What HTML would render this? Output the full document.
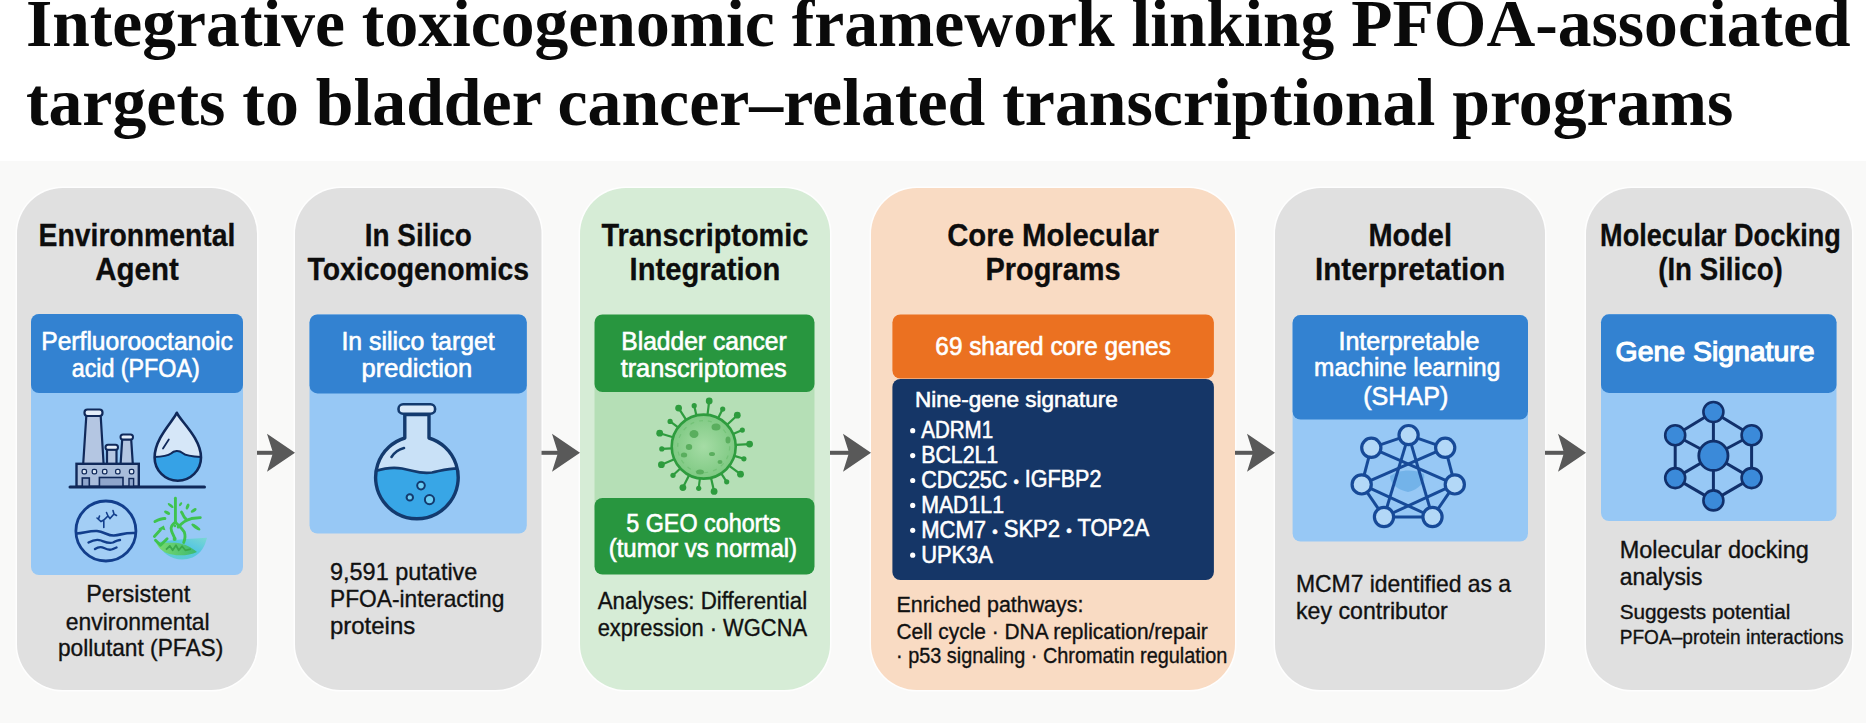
<!DOCTYPE html>
<html><head><meta charset="utf-8"><style>
html,body{margin:0;padding:0;background:#fff;overflow:hidden;}
svg{display:block;font-family:"Liberation Sans", sans-serif;}
</style></head><body>
<svg width="1866" height="723" viewBox="0 0 1866 723">
<rect x="0" y="0" width="1866" height="723" fill="#ffffff"/>
<rect x="0" y="161" width="1866" height="562" fill="#f9f9f8"/>
<text x="25.9" y="45.6" font-size="67" font-weight="bold" fill="#0a0a0a" text-anchor="start" font-family='"Liberation Serif", serif' textLength="1824.7" lengthAdjust="spacingAndGlyphs" >Integrative toxicogenomic framework linking PFOA-associated</text>
<text x="25.9" y="125.2" font-size="67" font-weight="bold" fill="#0a0a0a" text-anchor="start" font-family='"Liberation Serif", serif' textLength="1707.5" lengthAdjust="spacingAndGlyphs" >targets to bladder cancer–related transcriptional programs</text>
<rect x="15.5" y="186.5" width="243" height="505" rx="47.5" ry="47.5" fill="#ffffff" opacity="0.85"/>
<rect x="17" y="188" width="240" height="502" rx="46" ry="46" fill="#e0e0e0"/>
<rect x="293.5" y="186.5" width="249.5" height="505" rx="47.5" ry="47.5" fill="#ffffff" opacity="0.85"/>
<rect x="295" y="188" width="246.5" height="502" rx="46" ry="46" fill="#e0e0e0"/>
<rect x="578.5" y="186.5" width="253" height="505" rx="47.5" ry="47.5" fill="#ffffff" opacity="0.85"/>
<rect x="580" y="188" width="250" height="502" rx="46" ry="46" fill="#d6ecd6"/>
<rect x="869.5" y="186.5" width="367" height="505" rx="47.5" ry="47.5" fill="#ffffff" opacity="0.85"/>
<rect x="871" y="188" width="364" height="502" rx="46" ry="46" fill="#f9dbc3"/>
<rect x="1273.5" y="186.5" width="273" height="505" rx="47.5" ry="47.5" fill="#ffffff" opacity="0.85"/>
<rect x="1275" y="188" width="270" height="502" rx="46" ry="46" fill="#e0e0e0"/>
<rect x="1584.5" y="186.5" width="269" height="505" rx="47.5" ry="47.5" fill="#ffffff" opacity="0.85"/>
<rect x="1586" y="188" width="266" height="502" rx="46" ry="46" fill="#e0e0e0"/>
<line x1="257" y1="452.8" x2="275" y2="452.8" stroke="#595959" stroke-width="4"/>
<path d="M267,433.8 L295,452.8 L267,471.8 L273,452.8 Z" fill="#595959"/>
<line x1="541.5" y1="452.8" x2="560" y2="452.8" stroke="#595959" stroke-width="4"/>
<path d="M552,433.8 L580,452.8 L552,471.8 L558,452.8 Z" fill="#595959"/>
<line x1="830" y1="452.8" x2="851" y2="452.8" stroke="#595959" stroke-width="4"/>
<path d="M843,433.8 L871,452.8 L843,471.8 L849,452.8 Z" fill="#595959"/>
<line x1="1235" y1="452.8" x2="1255" y2="452.8" stroke="#595959" stroke-width="4"/>
<path d="M1247,433.8 L1275,452.8 L1247,471.8 L1253,452.8 Z" fill="#595959"/>
<line x1="1545" y1="452.8" x2="1566" y2="452.8" stroke="#595959" stroke-width="4"/>
<path d="M1558,433.8 L1586,452.8 L1558,471.8 L1564,452.8 Z" fill="#595959"/>
<text x="137.0" y="245.9" font-size="31.5" font-weight="bold" fill="#0d0d0d" text-anchor="middle" stroke="#0d0d0d" stroke-width="0.3" textLength="196.9" lengthAdjust="spacingAndGlyphs" >Environmental</text>
<text x="137.0" y="279.7" font-size="31.5" font-weight="bold" fill="#0d0d0d" text-anchor="middle" stroke="#0d0d0d" stroke-width="0.3" textLength="83.5" lengthAdjust="spacingAndGlyphs" >Agent</text>
<text x="418.3" y="245.9" font-size="31.5" font-weight="bold" fill="#0d0d0d" text-anchor="middle" stroke="#0d0d0d" stroke-width="0.3" textLength="107.1" lengthAdjust="spacingAndGlyphs" >In Silico</text>
<text x="418.3" y="279.7" font-size="31.5" font-weight="bold" fill="#0d0d0d" text-anchor="middle" stroke="#0d0d0d" stroke-width="0.3" textLength="221.6" lengthAdjust="spacingAndGlyphs" >Toxicogenomics</text>
<text x="704.9" y="245.9" font-size="31.5" font-weight="bold" fill="#0d0d0d" text-anchor="middle" stroke="#0d0d0d" stroke-width="0.3" textLength="206.9" lengthAdjust="spacingAndGlyphs" >Transcriptomic</text>
<text x="704.9" y="279.7" font-size="31.5" font-weight="bold" fill="#0d0d0d" text-anchor="middle" stroke="#0d0d0d" stroke-width="0.3" textLength="150.7" lengthAdjust="spacingAndGlyphs" >Integration</text>
<text x="1053.0" y="245.9" font-size="31.5" font-weight="bold" fill="#0d0d0d" text-anchor="middle" stroke="#0d0d0d" stroke-width="0.3" textLength="211.6" lengthAdjust="spacingAndGlyphs" >Core Molecular</text>
<text x="1053.0" y="279.7" font-size="31.5" font-weight="bold" fill="#0d0d0d" text-anchor="middle" stroke="#0d0d0d" stroke-width="0.3" textLength="135.2" lengthAdjust="spacingAndGlyphs" >Programs</text>
<text x="1410.2" y="245.9" font-size="31.5" font-weight="bold" fill="#0d0d0d" text-anchor="middle" stroke="#0d0d0d" stroke-width="0.3" textLength="83.6" lengthAdjust="spacingAndGlyphs" >Model</text>
<text x="1410.2" y="279.7" font-size="31.5" font-weight="bold" fill="#0d0d0d" text-anchor="middle" stroke="#0d0d0d" stroke-width="0.3" textLength="190.2" lengthAdjust="spacingAndGlyphs" >Interpretation</text>
<text x="1720.5" y="245.9" font-size="31.5" font-weight="bold" fill="#0d0d0d" text-anchor="middle" stroke="#0d0d0d" stroke-width="0.3" textLength="240.8" lengthAdjust="spacingAndGlyphs" >Molecular Docking</text>
<text x="1720.5" y="279.7" font-size="31.5" font-weight="bold" fill="#0d0d0d" text-anchor="middle" stroke="#0d0d0d" stroke-width="0.3" textLength="124.6" lengthAdjust="spacingAndGlyphs" >(In Silico)</text>
<rect x="31" y="314" width="212" height="261" rx="8" fill="#97c8f5"/>
<rect x="31" y="314" width="212" height="79" rx="8" fill="#3382d1"/>
<text x="137.0" y="349.6" font-size="25" font-weight="normal" fill="#fff" text-anchor="middle" stroke="#fff" stroke-width="0.6" textLength="191.5" lengthAdjust="spacingAndGlyphs" >Perfluorooctanoic</text>
<text x="135.7" y="376.9" font-size="25" font-weight="normal" fill="#fff" text-anchor="middle" stroke="#fff" stroke-width="0.6" textLength="128.0" lengthAdjust="spacingAndGlyphs" >acid (PFOA)</text>
<text x="138.2" y="602.4" font-size="24" font-weight="normal" fill="#111" text-anchor="middle" stroke="#111" stroke-width="0.35" textLength="104.1" lengthAdjust="spacingAndGlyphs" >Persistent</text>
<text x="137.7" y="629.5" font-size="24" font-weight="normal" fill="#111" text-anchor="middle" stroke="#111" stroke-width="0.35" textLength="143.9" lengthAdjust="spacingAndGlyphs" >environmental</text>
<text x="140.6" y="656.0" font-size="24" font-weight="normal" fill="#111" text-anchor="middle" stroke="#111" stroke-width="0.35" textLength="165.4" lengthAdjust="spacingAndGlyphs" >pollutant (PFAS)</text>
<rect x="309.5" y="314.5" width="217.29999999999995" height="219.0" rx="8" fill="#97c8f5"/>
<rect x="309.5" y="314.5" width="217.29999999999995" height="78.89999999999998" rx="8" fill="#3382d1"/>
<text x="418.1" y="349.5" font-size="25" font-weight="normal" fill="#fff" text-anchor="middle" stroke="#fff" stroke-width="0.6" textLength="153.3" lengthAdjust="spacingAndGlyphs" >In silico target</text>
<text x="416.9" y="376.8" font-size="25" font-weight="normal" fill="#fff" text-anchor="middle" stroke="#fff" stroke-width="0.6" textLength="110.7" lengthAdjust="spacingAndGlyphs" >prediction</text>
<text x="330.0" y="579.8" font-size="24" font-weight="normal" fill="#111" text-anchor="start" stroke="#111" stroke-width="0.35" textLength="147.4" lengthAdjust="spacingAndGlyphs" >9,591 putative</text>
<text x="330.0" y="607.2" font-size="24" font-weight="normal" fill="#111" text-anchor="start" stroke="#111" stroke-width="0.35" textLength="174.4" lengthAdjust="spacingAndGlyphs" >PFOA-interacting</text>
<text x="330.0" y="634.3" font-size="24" font-weight="normal" fill="#111" text-anchor="start" stroke="#111" stroke-width="0.35" textLength="85.2" lengthAdjust="spacingAndGlyphs" >proteins</text>
<rect x="594.5" y="380" width="220" height="130" fill="#b5dfb6"/>
<rect x="594.5" y="314.5" width="220" height="77.5" rx="8" fill="#28963f"/>
<rect x="594.5" y="498" width="220" height="76.5" rx="8" fill="#28963f"/>
<text x="704.0" y="349.5" font-size="25" font-weight="normal" fill="#fff" text-anchor="middle" stroke="#fff" stroke-width="0.6" textLength="165.5" lengthAdjust="spacingAndGlyphs" >Bladder cancer</text>
<text x="703.7" y="376.8" font-size="25" font-weight="normal" fill="#fff" text-anchor="middle" stroke="#fff" stroke-width="0.6" textLength="166.1" lengthAdjust="spacingAndGlyphs" >transcriptomes</text>
<text x="703.4" y="531.6" font-size="25" font-weight="normal" fill="#fff" text-anchor="middle" stroke="#fff" stroke-width="0.6" textLength="154.3" lengthAdjust="spacingAndGlyphs" >5 GEO cohorts</text>
<text x="702.9" y="557.4" font-size="25" font-weight="normal" fill="#fff" text-anchor="middle" stroke="#fff" stroke-width="0.6" textLength="188.5" lengthAdjust="spacingAndGlyphs" >(tumor vs normal)</text>
<text x="702.4" y="609.4" font-size="23" font-weight="normal" fill="#111" text-anchor="middle" stroke="#111" stroke-width="0.35" textLength="209.4" lengthAdjust="spacingAndGlyphs" >Analyses: Differential</text>
<text x="702.4" y="635.6" font-size="23" font-weight="normal" fill="#111" text-anchor="middle" stroke="#111" stroke-width="0.35" textLength="209.4" lengthAdjust="spacingAndGlyphs" >expression · WGCNA</text>
<rect x="892.4" y="314.5" width="321.5" height="64" rx="8" fill="#eb7121"/>
<rect x="892.4" y="379" width="321.5" height="201" rx="8" fill="#153667"/>
<text x="1053.1" y="355.2" font-size="25" font-weight="normal" fill="#fff" text-anchor="middle" stroke="#fff" stroke-width="0.6" textLength="235.5" lengthAdjust="spacingAndGlyphs" >69 shared core genes</text>
<text x="915.0" y="407.1" font-size="22" font-weight="normal" fill="#fff" text-anchor="start" stroke="#fff" stroke-width="0.6" textLength="202.8" lengthAdjust="spacingAndGlyphs" >Nine-gene signature</text>
<circle cx="912.7" cy="430.7" r="2.6" fill="#fff"/>
<text x="921.2" y="438.3" font-size="24" font-weight="normal" fill="#fff" text-anchor="start" stroke="#fff" stroke-width="0.6" textLength="71.9" lengthAdjust="spacingAndGlyphs" >ADRM1</text>
<circle cx="912.7" cy="455.6" r="2.6" fill="#fff"/>
<text x="921.2" y="463.2" font-size="24" font-weight="normal" fill="#fff" text-anchor="start" stroke="#fff" stroke-width="0.6" textLength="77.0" lengthAdjust="spacingAndGlyphs" >BCL2L1</text>
<circle cx="912.7" cy="480.5" r="2.6" fill="#fff"/>
<text x="921.2" y="488.1" font-size="24" font-weight="normal" fill="#fff" text-anchor="start" stroke="#fff" stroke-width="0.6" textLength="180.2" lengthAdjust="spacingAndGlyphs" >CDC25C <tspan font-size="17" dy="-1">•</tspan><tspan dy="1"></tspan> IGFBP2</text>
<circle cx="912.7" cy="505.4" r="2.6" fill="#fff"/>
<text x="921.2" y="513.0" font-size="24" font-weight="normal" fill="#fff" text-anchor="start" stroke="#fff" stroke-width="0.6" textLength="82.8" lengthAdjust="spacingAndGlyphs" >MAD1L1</text>
<circle cx="912.7" cy="530.3" r="2.6" fill="#fff"/>
<text x="921.2" y="537.9" font-size="24" font-weight="normal" fill="#fff" text-anchor="start" stroke="#fff" stroke-width="0.6" textLength="228.0" lengthAdjust="spacingAndGlyphs" >MCM7 <tspan font-size="17" dy="-1">•</tspan><tspan dy="1"></tspan> SKP2 <tspan font-size="17" dy="-1">•</tspan><tspan dy="1"></tspan> TOP2A</text>
<circle cx="912.7" cy="555.2" r="2.6" fill="#fff"/>
<text x="921.2" y="562.8" font-size="24" font-weight="normal" fill="#fff" text-anchor="start" stroke="#fff" stroke-width="0.6" textLength="71.6" lengthAdjust="spacingAndGlyphs" >UPK3A</text>
<text x="896.5" y="612.4" font-size="22" font-weight="normal" fill="#111" text-anchor="start" stroke="#111" stroke-width="0.35" textLength="186.9" lengthAdjust="spacingAndGlyphs" >Enriched pathways:</text>
<text x="896.5" y="638.5" font-size="22" font-weight="normal" fill="#111" text-anchor="start" stroke="#111" stroke-width="0.35" textLength="311.3" lengthAdjust="spacingAndGlyphs" >Cell cycle · DNA replication/repair</text>
<text x="896.0" y="662.6" font-size="22" font-weight="normal" fill="#111" text-anchor="start" stroke="#111" stroke-width="0.35" textLength="331.3" lengthAdjust="spacingAndGlyphs" >· p53 signaling · Chromatin regulation</text>
<rect x="1292.6" y="315" width="235.4000000000001" height="226.5" rx="8" fill="#97c8f5"/>
<rect x="1292.6" y="315" width="235.4000000000001" height="104.5" rx="8" fill="#3382d1"/>
<text x="1408.9" y="349.5" font-size="25" font-weight="normal" fill="#fff" text-anchor="middle" stroke="#fff" stroke-width="0.6" textLength="140.9" lengthAdjust="spacingAndGlyphs" >Interpretable</text>
<text x="1407.2" y="376.4" font-size="25" font-weight="normal" fill="#fff" text-anchor="middle" stroke="#fff" stroke-width="0.6" textLength="186.2" lengthAdjust="spacingAndGlyphs" >machine learning</text>
<text x="1405.8" y="404.8" font-size="25" font-weight="normal" fill="#fff" text-anchor="middle" stroke="#fff" stroke-width="0.6" textLength="85.1" lengthAdjust="spacingAndGlyphs" >(SHAP)</text>
<text x="1296.0" y="591.5" font-size="24" font-weight="normal" fill="#111" text-anchor="start" stroke="#111" stroke-width="0.35" textLength="215.1" lengthAdjust="spacingAndGlyphs" >MCM7 identified as a</text>
<text x="1296.0" y="618.5" font-size="24" font-weight="normal" fill="#111" text-anchor="start" stroke="#111" stroke-width="0.35" textLength="151.8" lengthAdjust="spacingAndGlyphs" >key contributor</text>
<rect x="1601" y="314.3" width="235.5" height="206.7" rx="8" fill="#97c8f5"/>
<rect x="1601" y="314.3" width="235.5" height="78.59999999999997" rx="8" fill="#3382d1"/>
<text x="1615.6" y="361.3" font-size="28.5" font-weight="normal" fill="#fff" text-anchor="start" stroke="#fff" stroke-width="1.2" textLength="198.9" lengthAdjust="spacingAndGlyphs" >Gene Signature</text>
<text x="1619.7" y="557.8" font-size="23" font-weight="normal" fill="#111" text-anchor="start" stroke="#111" stroke-width="0.35" textLength="189.2" lengthAdjust="spacingAndGlyphs" >Molecular docking</text>
<text x="1619.7" y="585.0" font-size="23" font-weight="normal" fill="#111" text-anchor="start" stroke="#111" stroke-width="0.35" textLength="82.7" lengthAdjust="spacingAndGlyphs" >analysis</text>
<text x="1619.7" y="619.2" font-size="20" font-weight="normal" fill="#111" text-anchor="start" stroke="#111" stroke-width="0.35" textLength="170.6" lengthAdjust="spacingAndGlyphs" >Suggests potential</text>
<text x="1619.7" y="643.6" font-size="20" font-weight="normal" fill="#111" text-anchor="start" stroke="#111" stroke-width="0.35" textLength="223.9" lengthAdjust="spacingAndGlyphs" >PFOA–protein interactions</text>
<path d="M86.3,416 L100.7,416 L103.6,464 L83.2,464 Z" fill="#b4c6e2" stroke="#10295a" stroke-width="2.2" stroke-linejoin="round"/>
<rect x="84.5" y="409.5" width="18" height="6.5" rx="3" fill="#e3edf9" stroke="#10295a" stroke-width="2.2"/>
<path d="M107,449.5 L116.5,449.5 L116.5,464 L107,464 Z" fill="#b4c6e2" stroke="#10295a" stroke-width="2.2"/>
<rect x="105.5" y="444.8" width="12.5" height="5" rx="2.5" fill="#e3edf9" stroke="#10295a" stroke-width="2"/>
<path d="M122.2,439.5 L131.2,439.5 L132.8,464 L120.6,464 Z" fill="#b4c6e2" stroke="#10295a" stroke-width="2.2"/>
<rect x="120.5" y="434.6" width="12.5" height="5" rx="2.5" fill="#e3edf9" stroke="#10295a" stroke-width="2"/>
<rect x="76.5" y="463.8" width="62.3" height="23" fill="#a9bddb" stroke="#10295a" stroke-width="2.4"/>
<rect x="82.1" y="469.4" width="4.4" height="4.4" rx="1.6" fill="#dde8f5" stroke="#10295a" stroke-width="1.3"/>
<rect x="92.2" y="469.4" width="4.4" height="4.4" rx="1.6" fill="#dde8f5" stroke="#10295a" stroke-width="1.3"/>
<rect x="102.5" y="469.4" width="4.4" height="4.4" rx="1.6" fill="#dde8f5" stroke="#10295a" stroke-width="1.3"/>
<rect x="115.6" y="469.4" width="4.4" height="4.4" rx="1.6" fill="#dde8f5" stroke="#10295a" stroke-width="1.3"/>
<rect x="129.4" y="469.4" width="4.4" height="4.4" rx="1.6" fill="#dde8f5" stroke="#10295a" stroke-width="1.3"/>
<rect x="82.3" y="478" width="7" height="9" fill="#8fa6cc" stroke="#10295a" stroke-width="1.6"/>
<rect x="99.4" y="477.5" width="23.6" height="9.5" fill="#8fa6cc" stroke="#10295a" stroke-width="1.6"/>
<rect x="129" y="478.5" width="4.6" height="8.5" fill="#8fa6cc" stroke="#10295a" stroke-width="1.4"/>
<line x1="70" y1="487" x2="204.5" y2="487" stroke="#10295a" stroke-width="3" stroke-linecap="round"/>
<path d="M176.8,412.8 C179.5,420 201,438 201,457.5 A23.2,23.2 0 0 1 154.6,457.5 C154.6,438 174.1,420 176.8,412.8 Z" fill="#d6e7f8"/>
<clipPath id="dropclip"><path d="M176.8,412.8 C179.5,420 201,438 201,457.5 A23.2,23.2 0 0 1 154.6,457.5 C154.6,438 174.1,420 176.8,412.8 Z"/></clipPath>
<path clip-path="url(#dropclip)" d="M150,457 C160,457 167,456.5 171,453.5 C174,450.5 179,450 182.5,453 C186.5,456.5 194,457 206,457 L206,485 L150,485 Z" fill="#36a2e6" stroke="#10295a" stroke-width="2"/>
<path d="M176.8,412.8 C179.5,420 201,438 201,457.5 A23.2,23.2 0 0 1 154.6,457.5 C154.6,438 174.1,420 176.8,412.8 Z" fill="none" stroke="#10295a" stroke-width="2.6" stroke-linejoin="round"/>
<line x1="163" y1="448.5" x2="168.8" y2="439.5" stroke="#10295a" stroke-width="1.8" stroke-linecap="round"/>
<circle cx="105.9" cy="531" r="30" fill="#a3cef5" stroke="#123e8c" stroke-width="2.8"/>
<path d="M76.5,533.5 C84,533 90,530.5 97,531 C104,531.5 108,536 114,535.5 C121,535 124,532.5 135.2,533" fill="none" stroke="#123e8c" stroke-width="2.6"/>
<path d="M88.5,542.5 C93,540 97,539 101,540.5 C105,542 109,544 113,542.5 C116,541 118,540 120,540" fill="none" stroke="#123e8c" stroke-width="2.4" stroke-linecap="round"/>
<path d="M95,549 C98,547 101,546.5 104,548 C107,549.5 110,550.5 113,549 L116.5,547.5" fill="none" stroke="#123e8c" stroke-width="2.4" stroke-linecap="round"/>
<path d="M103.8,527.5 L103.8,520 M97,518 L101,521.5 L103.8,520 L108,516 L110,518.5 L114,514 L116.5,515.5 M108,516 L106.5,512.5 M114,514 L113,510.5 M99.5,516 L98.5,519" fill="none" stroke="#123e8c" stroke-width="1.6" stroke-linecap="round"/>
<defs><linearGradient id="bowl" x1="0" y1="1" x2="1" y2="0"><stop offset="0" stop-color="#5fd0c8"/><stop offset="0.6" stop-color="#52c6e0"/><stop offset="1" stop-color="#7ad8d0"/></linearGradient><linearGradient id="soil" x1="0" y1="0" x2="1" y2="0"><stop offset="0" stop-color="#7fdc6a"/><stop offset="1" stop-color="#3ab86a"/></linearGradient></defs>
<g transform="translate(145,490) scale(0.1106)">
<path d="M120,470 C150,600 300,660 430,610 C510,575 545,500 560,432 C420,440 260,450 120,470 Z" fill="url(#bowl)" opacity="0.95"/>
<path d="M95,455 C140,490 210,470 280,478 C360,486 420,520 470,560 C390,600 260,600 185,565 C135,540 105,500 95,455 Z" fill="url(#soil)" opacity="0.95"/>
<path d="M190,540 L225,505 L250,545 L280,500 L305,545 L335,508 L365,545 L415,535" fill="none" stroke="#3aa84a" stroke-width="16" stroke-linejoin="round"/>
<g fill="none" stroke="#3fc34f" stroke-width="26" stroke-linecap="round" stroke-linejoin="round"><path d="M275,75 L275,290"/><path d="M275,290 C250,310 225,330 240,370 C250,400 265,420 268,440"/><path d="M275,290 C300,320 330,340 355,380 C370,420 360,450 350,475"/><path d="M300,335 C330,300 370,270 420,258 L500,250"/><path d="M330,200 C350,225 340,240 370,262"/><path d="M95,455 L140,500 L200,440"/><path d="M90,285 C120,270 150,255 180,258"/><path d="M140,360 L85,420"/></g>
<g fill="#3fc34f"><ellipse cx="232" cy="140" rx="32" ry="12" transform="rotate(40 232 140)"/><ellipse cx="322" cy="128" rx="20" ry="11" transform="rotate(-55 322 128)"/><ellipse cx="200" cy="205" rx="30" ry="14" transform="rotate(30 200 205)"/><ellipse cx="385" cy="150" rx="14" ry="28" transform="rotate(20 385 150)"/><ellipse cx="440" cy="185" rx="30" ry="14" transform="rotate(-35 440 185)"/><ellipse cx="460" cy="335" rx="48" ry="15" transform="rotate(35 460 335)"/><path d="M120,350 L170,320 L185,365 Z"/><circle cx="268" cy="442" r="18"/><circle cx="270" cy="325" r="12"/></g>
</g>
<path d="M404.8,414.6 L404.8,438 A41.3,41.3 0 1 0 429,438 L429,414.6 Z" fill="#c9e1f7"/>
<clipPath id="flaskclip"><path d="M404.8,414.6 L404.8,438 A41.3,41.3 0 1 0 429,438 L429,414.6 Z"/></clipPath>
<path clip-path="url(#flaskclip)" d="M370,472.5 C380,469.5 390,466.5 402,468.5 C414,470.5 420,474.5 432,472.5 C442,470.5 450,467.5 462,468.5 L462,525 L370,525 Z" fill="#38a6e6" stroke="#133a6e" stroke-width="2.6"/>
<path d="M404.8,414.6 L404.8,438 A41.3,41.3 0 1 0 429,438 L429,414.6 Z" fill="none" stroke="#133a6e" stroke-width="3.4" stroke-linejoin="round"/>
<rect x="398.5" y="404.3" width="36.6" height="9.5" rx="4.6" fill="#dbeaf8" stroke="#133a6e" stroke-width="2.6"/>
<path d="M391.5,457 Q396,450 404,448" fill="none" stroke="#133a6e" stroke-width="2.6" stroke-linecap="round"/>
<circle cx="421" cy="485.6" r="3.8" fill="#6ccdf3" stroke="#133a6e" stroke-width="2"/>
<circle cx="429.5" cy="499.6" r="4.6" fill="#6ccdf3" stroke="#133a6e" stroke-width="2"/>
<circle cx="409.8" cy="497.4" r="3.2" fill="#6ccdf3" stroke="#133a6e" stroke-width="2"/>
<line x1="707.5" y1="414.8" x2="709.2" y2="400.9" stroke="#2e9c3e" stroke-width="2.2"/>
<circle cx="709.2" cy="400.9" r="3.4" fill="#2e9c3e"/>
<line x1="718.2" y1="418.1" x2="722.7" y2="409.1" stroke="#2e9c3e" stroke-width="2.2"/>
<circle cx="722.7" cy="409.1" r="2.6" fill="#2e9c3e"/>
<line x1="727.1" y1="424.7" x2="737.3" y2="415.2" stroke="#2e9c3e" stroke-width="2.2"/>
<circle cx="737.3" cy="415.2" r="3.4" fill="#2e9c3e"/>
<line x1="733.1" y1="434.0" x2="742.3" y2="430.1" stroke="#2e9c3e" stroke-width="2.2"/>
<circle cx="742.3" cy="430.1" r="2.6" fill="#2e9c3e"/>
<line x1="735.7" y1="444.9" x2="749.6" y2="444.1" stroke="#2e9c3e" stroke-width="2.2"/>
<circle cx="749.6" cy="444.1" r="3.4" fill="#2e9c3e"/>
<line x1="734.3" y1="455.9" x2="743.9" y2="458.8" stroke="#2e9c3e" stroke-width="2.2"/>
<circle cx="743.9" cy="458.8" r="2.6" fill="#2e9c3e"/>
<line x1="729.3" y1="465.8" x2="740.5" y2="474.2" stroke="#2e9c3e" stroke-width="2.2"/>
<circle cx="740.5" cy="474.2" r="3.4" fill="#2e9c3e"/>
<line x1="721.2" y1="473.4" x2="726.7" y2="481.8" stroke="#2e9c3e" stroke-width="2.2"/>
<circle cx="726.7" cy="481.8" r="2.6" fill="#2e9c3e"/>
<line x1="711.0" y1="477.8" x2="714.1" y2="491.4" stroke="#2e9c3e" stroke-width="2.2"/>
<circle cx="714.1" cy="491.4" r="3.4" fill="#2e9c3e"/>
<line x1="699.9" y1="478.4" x2="698.7" y2="488.3" stroke="#2e9c3e" stroke-width="2.2"/>
<circle cx="698.7" cy="488.3" r="2.6" fill="#2e9c3e"/>
<line x1="689.2" y1="475.1" x2="682.9" y2="487.6" stroke="#2e9c3e" stroke-width="2.2"/>
<circle cx="682.9" cy="487.6" r="3.4" fill="#2e9c3e"/>
<line x1="680.3" y1="468.5" x2="673.0" y2="475.3" stroke="#2e9c3e" stroke-width="2.2"/>
<circle cx="673.0" cy="475.3" r="2.6" fill="#2e9c3e"/>
<line x1="674.3" y1="459.2" x2="661.4" y2="464.7" stroke="#2e9c3e" stroke-width="2.2"/>
<circle cx="661.4" cy="464.7" r="3.4" fill="#2e9c3e"/>
<line x1="671.7" y1="448.3" x2="661.8" y2="448.9" stroke="#2e9c3e" stroke-width="2.2"/>
<circle cx="661.8" cy="448.9" r="2.6" fill="#2e9c3e"/>
<line x1="673.1" y1="437.3" x2="659.7" y2="433.2" stroke="#2e9c3e" stroke-width="2.2"/>
<circle cx="659.7" cy="433.2" r="3.4" fill="#2e9c3e"/>
<line x1="678.1" y1="427.4" x2="670.1" y2="421.4" stroke="#2e9c3e" stroke-width="2.2"/>
<circle cx="670.1" cy="421.4" r="2.6" fill="#2e9c3e"/>
<line x1="686.2" y1="419.8" x2="678.6" y2="408.1" stroke="#2e9c3e" stroke-width="2.2"/>
<circle cx="678.6" cy="408.1" r="3.4" fill="#2e9c3e"/>
<line x1="696.4" y1="415.4" x2="694.2" y2="405.7" stroke="#2e9c3e" stroke-width="2.2"/>
<circle cx="694.2" cy="405.7" r="2.6" fill="#2e9c3e"/>
<defs><radialGradient id="vg"><stop offset="0" stop-color="#a5dca5"/><stop offset="1" stop-color="#7fc983"/></radialGradient></defs>
<circle cx="703.7" cy="446.6" r="32" fill="url(#vg)" stroke="#2e9c3e" stroke-width="2.6"/>
<circle cx="703.7" cy="446.6" r="26" fill="none" stroke="#6fbf73" stroke-width="1.2" stroke-dasharray="4 5" opacity="0.8"/>
<ellipse cx="694" cy="434" rx="4.5" ry="4" fill="#5aae5e"/>
<ellipse cx="716" cy="427" rx="4.5" ry="3.5" fill="#5aae5e"/>
<ellipse cx="689" cy="447" rx="3.2" ry="3" fill="#5aae5e"/>
<ellipse cx="684" cy="455" rx="3.2" ry="2.5" fill="#5aae5e"/>
<ellipse cx="728" cy="440" rx="2.5" ry="3.5" fill="#5aae5e"/>
<ellipse cx="700" cy="472" rx="4" ry="2.5" fill="#5aae5e"/>
<ellipse cx="720" cy="462" rx="2.5" ry="2" fill="#5aae5e"/>
<ellipse cx="712" cy="454" rx="3" ry="2" fill="#5aae5e"/>
<path d="M1390,476 C1398,470 1412,468 1424,474 C1426,482 1418,490 1408,492 C1398,490 1390,484 1390,476 Z" fill="#6aaee6" opacity="0.8"/>
<line x1="1408.6" y1="435.1" x2="1371.3" y2="447.8" stroke="#174a98" stroke-width="3"/>
<line x1="1408.6" y1="435.1" x2="1445.2" y2="447.8" stroke="#174a98" stroke-width="3"/>
<line x1="1371.3" y1="447.8" x2="1361.7" y2="484.4" stroke="#174a98" stroke-width="3"/>
<line x1="1445.2" y1="447.8" x2="1454.8" y2="484.4" stroke="#174a98" stroke-width="3"/>
<line x1="1361.7" y1="484.4" x2="1384" y2="517" stroke="#174a98" stroke-width="3"/>
<line x1="1454.8" y1="484.4" x2="1432.5" y2="517" stroke="#174a98" stroke-width="3"/>
<line x1="1384" y1="517" x2="1432.5" y2="517" stroke="#174a98" stroke-width="3"/>
<line x1="1408.6" y1="435.1" x2="1384" y2="517" stroke="#174a98" stroke-width="3"/>
<line x1="1408.6" y1="435.1" x2="1432.5" y2="517" stroke="#174a98" stroke-width="3"/>
<line x1="1371.3" y1="447.8" x2="1454.8" y2="484.4" stroke="#174a98" stroke-width="3"/>
<line x1="1445.2" y1="447.8" x2="1361.7" y2="484.4" stroke="#174a98" stroke-width="3"/>
<line x1="1361.7" y1="484.4" x2="1432.5" y2="517" stroke="#174a98" stroke-width="3"/>
<line x1="1454.8" y1="484.4" x2="1384" y2="517" stroke="#174a98" stroke-width="3"/>
<circle cx="1408.6" cy="435.1" r="9.6" fill="#b3d8f7" stroke="#174a98" stroke-width="3.2"/>
<circle cx="1371.3" cy="447.8" r="9.6" fill="#b3d8f7" stroke="#174a98" stroke-width="3.2"/>
<circle cx="1445.2" cy="447.8" r="9.6" fill="#b3d8f7" stroke="#174a98" stroke-width="3.2"/>
<circle cx="1361.7" cy="484.4" r="9.6" fill="#b3d8f7" stroke="#174a98" stroke-width="3.2"/>
<circle cx="1454.8" cy="484.4" r="9.6" fill="#b3d8f7" stroke="#174a98" stroke-width="3.2"/>
<circle cx="1384" cy="517" r="9.6" fill="#b3d8f7" stroke="#174a98" stroke-width="3.2"/>
<circle cx="1432.5" cy="517" r="9.6" fill="#b3d8f7" stroke="#174a98" stroke-width="3.2"/>
<line x1="1713.4" y1="412" x2="1751.6" y2="435.2" stroke="#11306b" stroke-width="3"/>
<line x1="1713.4" y1="455.8" x2="1713.4" y2="412" stroke="#11306b" stroke-width="3"/>
<line x1="1751.6" y1="435.2" x2="1751.6" y2="478.1" stroke="#11306b" stroke-width="3"/>
<line x1="1713.4" y1="455.8" x2="1751.6" y2="435.2" stroke="#11306b" stroke-width="3"/>
<line x1="1751.6" y1="478.1" x2="1713.4" y2="500.4" stroke="#11306b" stroke-width="3"/>
<line x1="1713.4" y1="455.8" x2="1751.6" y2="478.1" stroke="#11306b" stroke-width="3"/>
<line x1="1713.4" y1="500.4" x2="1675.2" y2="478.1" stroke="#11306b" stroke-width="3"/>
<line x1="1713.4" y1="455.8" x2="1713.4" y2="500.4" stroke="#11306b" stroke-width="3"/>
<line x1="1675.2" y1="478.1" x2="1675.2" y2="435.2" stroke="#11306b" stroke-width="3"/>
<line x1="1713.4" y1="455.8" x2="1675.2" y2="478.1" stroke="#11306b" stroke-width="3"/>
<line x1="1675.2" y1="435.2" x2="1713.4" y2="412" stroke="#11306b" stroke-width="3"/>
<line x1="1713.4" y1="455.8" x2="1675.2" y2="435.2" stroke="#11306b" stroke-width="3"/>
<circle cx="1713.4" cy="455.8" r="14.6" fill="#3b8ad9" stroke="#11306b" stroke-width="2.8"/>
<circle cx="1713.4" cy="412" r="10" fill="#3b8ad9" stroke="#11306b" stroke-width="2.6"/>
<circle cx="1751.6" cy="435.2" r="10" fill="#3b8ad9" stroke="#11306b" stroke-width="2.6"/>
<circle cx="1751.6" cy="478.1" r="10" fill="#3b8ad9" stroke="#11306b" stroke-width="2.6"/>
<circle cx="1713.4" cy="500.4" r="10" fill="#3b8ad9" stroke="#11306b" stroke-width="2.6"/>
<circle cx="1675.2" cy="478.1" r="10" fill="#3b8ad9" stroke="#11306b" stroke-width="2.6"/>
<circle cx="1675.2" cy="435.2" r="10" fill="#3b8ad9" stroke="#11306b" stroke-width="2.6"/>
</svg>
</body></html>
